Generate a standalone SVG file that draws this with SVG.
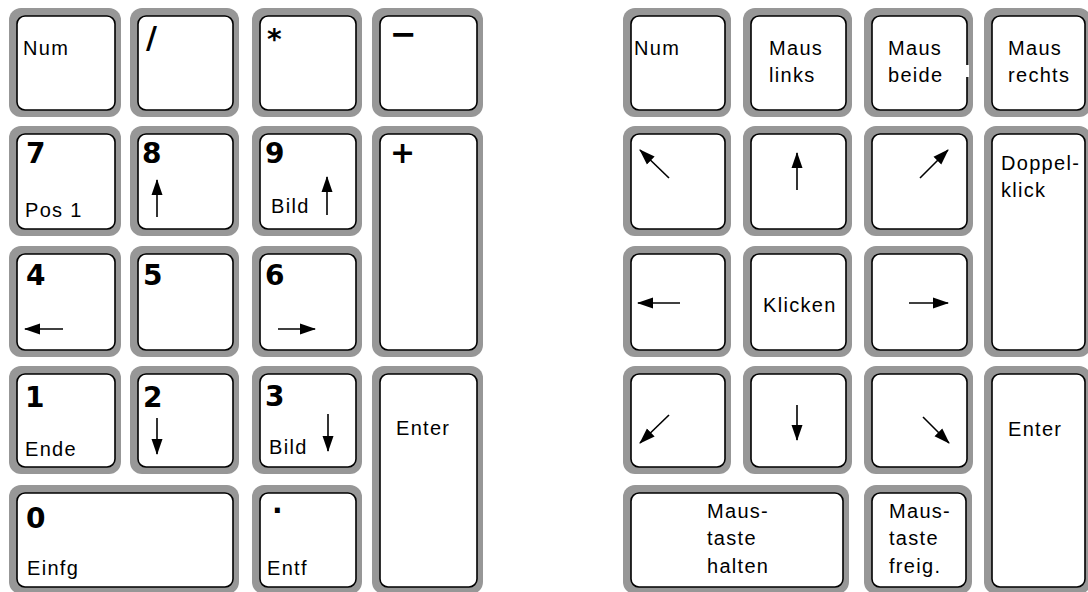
<svg xmlns="http://www.w3.org/2000/svg" width="1088" height="592" viewBox="0 0 1088 592">
<style>
.g{fill:#979797}
.k{fill:#fff;stroke:#000;stroke-width:1.6}
.t{font-family:"Liberation Sans",Arial,sans-serif;font-size:20px;letter-spacing:1.3px;fill:#000}
.b{font-family:"DejaVu Sans",Verdana,sans-serif;font-weight:bold;font-size:28px;fill:#000}
.a{stroke:#000;stroke-width:1.6;fill:none;marker-end:url(#ah)}
</style>
<defs>
<marker id="ah" viewBox="0 0 16 12" refX="15" refY="6" markerWidth="16" markerHeight="12" markerUnits="userSpaceOnUse" orient="auto">
<path d="M0,0.5 L16,6 L0,11.5 z" fill="#000"/>
</marker>
</defs>
<rect width="1088" height="592" fill="#fff"/>

<!-- Left keypad -->
<g id="L-num"><rect class="g" x="9" y="8" width="112" height="109" rx="12"/><rect class="k" x="17" y="16" width="98" height="94" rx="8"/><text class="t" x="23" y="55">Num</text></g>
<g id="L-div"><rect class="g" x="130" y="8" width="109" height="109" rx="12"/><rect class="k" x="138" y="16" width="95" height="94" rx="8"/><text class="b" x="146" y="48" style="font-size:30px">/</text></g>
<g id="L-mul"><rect class="g" x="252" y="8" width="110" height="109" rx="12"/><rect class="k" x="260" y="16" width="96" height="94" rx="8"/><text class="b" x="267" y="49">*</text></g>
<g id="L-sub"><rect class="g" x="372" y="8" width="111" height="109" rx="12"/><rect class="k" x="380" y="16" width="97" height="94" rx="8"/><text class="b" x="390" y="45" style="font-size:32px">−</text></g>

<g id="L-7"><rect class="g" x="9" y="126" width="112" height="110" rx="12"/><rect class="k" x="17" y="134" width="98" height="95" rx="8"/><text class="b" x="26" y="163">7</text><text class="t" x="25" y="217">Pos 1</text></g>
<g id="L-8"><rect class="g" x="130" y="126" width="109" height="110" rx="12"/><rect class="k" x="138" y="134" width="95" height="95" rx="8"/><text class="b" x="142" y="163">8</text></g>
<g id="L-9"><rect class="g" x="252" y="126" width="110" height="110" rx="12"/><rect class="k" x="260" y="134" width="96" height="95" rx="8"/><text class="b" x="265" y="163">9</text><text class="t" x="271" y="213">Bild</text></g>
<g id="L-add"><rect class="g" x="372" y="126" width="111" height="231" rx="12"/><rect class="k" x="380" y="134" width="97" height="216" rx="8"/><text class="b" x="390" y="163" style="font-size:30px">+</text></g>

<g id="L-4"><rect class="g" x="9" y="246" width="112" height="111" rx="12"/><rect class="k" x="17" y="254" width="98" height="96" rx="8"/><text class="b" x="26" y="285">4</text></g>
<g id="L-5"><rect class="g" x="130" y="246" width="109" height="111" rx="12"/><rect class="k" x="138" y="254" width="95" height="96" rx="8"/><text class="b" x="143" y="285">5</text></g>
<g id="L-6"><rect class="g" x="252" y="246" width="110" height="111" rx="12"/><rect class="k" x="260" y="254" width="96" height="96" rx="8"/><text class="b" x="265" y="285">6</text></g>

<g id="L-1"><rect class="g" x="9" y="366" width="112" height="108" rx="12"/><rect class="k" x="17" y="374" width="98" height="93" rx="8"/><text class="b" x="25" y="407">1</text><text class="t" x="25" y="456">Ende</text></g>
<g id="L-2"><rect class="g" x="130" y="366" width="109" height="108" rx="12"/><rect class="k" x="138" y="374" width="95" height="93" rx="8"/><text class="b" x="143" y="407">2</text></g>
<g id="L-3"><rect class="g" x="252" y="366" width="110" height="108" rx="12"/><rect class="k" x="260" y="374" width="96" height="93" rx="8"/><text class="b" x="265" y="406">3</text><text class="t" x="269" y="454">Bild</text></g>
<g id="L-enter"><rect class="g" x="372" y="366" width="111" height="228" rx="12"/><rect class="k" x="380" y="374" width="97" height="213" rx="8"/><text class="t" x="396" y="435">Enter</text></g>

<g id="L-0"><rect class="g" x="9" y="485" width="230" height="109" rx="12"/><rect class="k" x="17" y="493" width="216" height="94" rx="8"/><text class="b" x="26" y="528">0</text><text class="t" x="27" y="575">Einfg</text></g>
<g id="L-dec"><rect class="g" x="252" y="485" width="110" height="109" rx="12"/><rect class="k" x="260" y="493" width="96" height="94" rx="8"/><text class="b" x="272" y="513">.</text><text class="t" x="267" y="575">Entf</text></g>

<!-- Right keypad -->
<g id="R-num"><rect class="g" x="623" y="8" width="108" height="109" rx="12"/><rect class="k" x="631" y="16" width="94" height="94" rx="8"/><text class="t" x="634" y="55">Num</text></g>
<g id="R-links"><rect class="g" x="743" y="8" width="109" height="109" rx="12"/><rect class="k" x="751" y="16" width="95" height="94" rx="8"/><text class="t" x="769" y="55">Maus</text><text class="t" x="769" y="82">links</text></g>
<g id="R-beide"><rect class="g" x="864" y="8" width="109" height="109" rx="12"/><rect class="k" x="872" y="16" width="95" height="94" rx="8"/><rect x="964" y="65" width="5" height="12" fill="#fff"/><text class="t" x="888" y="55">Maus</text><text class="t" x="888" y="82">beide</text></g>
<g id="R-rechts"><rect class="g" x="984" y="8" width="107" height="109" rx="12"/><rect class="k" x="992" y="16" width="93" height="94" rx="8"/><text class="t" x="1008" y="55">Maus</text><text class="t" x="1008" y="82">rechts</text></g>

<g id="R-7"><rect class="g" x="623" y="126" width="108" height="110" rx="12"/><rect class="k" x="631" y="134" width="94" height="95" rx="8"/></g>
<g id="R-8"><rect class="g" x="743" y="126" width="109" height="110" rx="12"/><rect class="k" x="751" y="134" width="95" height="95" rx="8"/></g>
<g id="R-9"><rect class="g" x="864" y="126" width="109" height="110" rx="12"/><rect class="k" x="872" y="134" width="95" height="95" rx="8"/></g>
<g id="R-doppel"><rect class="g" x="984" y="126" width="107" height="231" rx="12"/><rect class="k" x="992" y="134" width="93" height="216" rx="8"/><text class="t" x="1001" y="170">Doppel-</text><text class="t" x="1001" y="197">klick</text></g>

<g id="R-4"><rect class="g" x="623" y="246" width="108" height="111" rx="12"/><rect class="k" x="631" y="254" width="94" height="96" rx="8"/></g>
<g id="R-5"><rect class="g" x="743" y="246" width="109" height="111" rx="12"/><rect class="k" x="751" y="254" width="95" height="96" rx="8"/><text class="t" x="763" y="312">Klicken</text></g>
<g id="R-6"><rect class="g" x="864" y="246" width="109" height="111" rx="12"/><rect class="k" x="872" y="254" width="95" height="96" rx="8"/></g>

<g id="R-1"><rect class="g" x="623" y="366" width="108" height="108" rx="12"/><rect class="k" x="631" y="374" width="94" height="93" rx="8"/></g>
<g id="R-2"><rect class="g" x="743" y="366" width="109" height="108" rx="12"/><rect class="k" x="751" y="374" width="95" height="93" rx="8"/></g>
<g id="R-3"><rect class="g" x="864" y="366" width="109" height="108" rx="12"/><rect class="k" x="872" y="374" width="95" height="93" rx="8"/></g>
<g id="R-enter"><rect class="g" x="984" y="366" width="107" height="228" rx="12"/><rect class="k" x="992" y="374" width="93" height="213" rx="8"/><text class="t" x="1008" y="436">Enter</text></g>

<g id="R-halten"><rect class="g" x="623" y="485" width="226" height="109" rx="12"/><rect class="k" x="631" y="493" width="212" height="94" rx="8"/><text class="t" x="707" y="518">Maus-</text><text class="t" x="707" y="545">taste</text><text class="t" x="707" y="573">halten</text></g>
<g id="R-freig"><rect class="g" x="864" y="485" width="108" height="109" rx="12"/><rect class="k" x="872" y="493" width="94" height="94" rx="8"/><text class="t" x="889" y="518">Maus-</text><text class="t" x="889" y="545">taste</text><text class="t" x="889" y="573">freig.</text></g>

<!-- arrows -->
<g id="arrows">
<line class="a" x1="157" y1="217" x2="157" y2="180"/>
<line class="a" x1="327" y1="215" x2="327" y2="177"/>
<line class="a" x1="63" y1="329" x2="25" y2="329"/>
<line class="a" x1="278" y1="329" x2="315" y2="329"/>
<line class="a" x1="157" y1="418" x2="157" y2="454"/>
<line class="a" x1="328" y1="414" x2="328" y2="451"/>
<line class="a" x1="669" y1="178" x2="640" y2="150"/>
<line class="a" x1="797" y1="190" x2="797" y2="153"/>
<line class="a" x1="920" y1="178" x2="948" y2="150"/>
<line class="a" x1="680" y1="303" x2="638" y2="303"/>
<line class="a" x1="909" y1="303" x2="948" y2="303"/>
<line class="a" x1="669" y1="415" x2="640" y2="443"/>
<line class="a" x1="797" y1="405" x2="797" y2="440"/>
<line class="a" x1="923" y1="417" x2="949" y2="443"/>
</g>
</svg>
